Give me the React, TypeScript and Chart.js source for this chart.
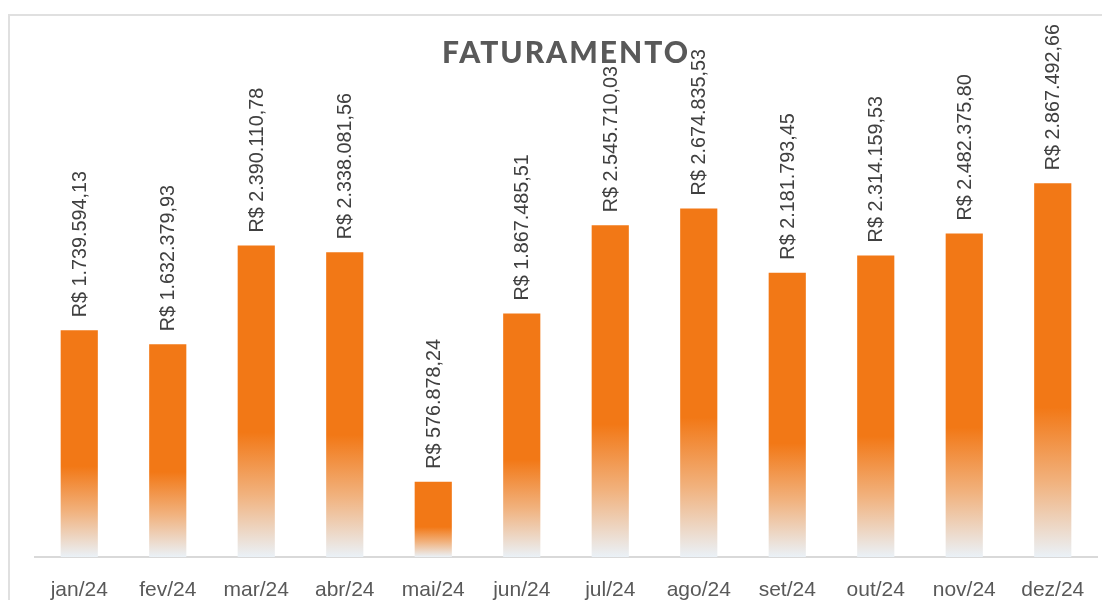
import React, { useEffect, useRef } from "react";
import { Chart, registerables } from "chart.js";

Chart.register(...registerables);

const TITLE = "FATURAMENTO";
const MONTHS = ["jan/24", "fev/24", "mar/24", "abr/24", "mai/24", "jun/24", "jul/24", "ago/24", "set/24", "out/24", "nov/24", "dez/24"];
const REVENUE = [1739594.13, 1632379.93, 2390110.78, 2338081.56, 576878.24, 1867485.51, 2545710.03, 2674835.53, 2181793.45, 2314159.53, 2482375.8, 2867492.66];
const Y_MAX = 3000000;

const ORANGE = "#F27816";

function formatBRL(v: number): string {
  const fixed = v.toFixed(2);
  const [intPart, dec] = fixed.split(".");
  const withDots = intPart.replace(/\B(?=(\d{3})+(?!\d))/g, ".");
  return "R$ " + withDots + "," + dec;
}

const labelPlugin = {
  id: "valueLabels",
  afterDatasetsDraw(chart: any) {
    const ctx = chart.ctx;
    const meta = chart.getDatasetMeta(0);
    ctx.save();
    ctx.font = "19.8px 'Liberation Sans', Arial, sans-serif";
    ctx.fillStyle = "#404040";
    ctx.textAlign = "left";
    ctx.textBaseline = "middle";
    meta.data.forEach((bar: any, i: number) => {
      ctx.save();
      ctx.translate(bar.x, bar.y - 13);
      ctx.rotate(-Math.PI / 2);
      ctx.fillText(formatBRL(REVENUE[i]), 0, 1);
      ctx.restore();
    });
    ctx.restore();
  },
};

const titlePlugin = {
  id: "customTitle",
  afterDraw(chart: any) {
    const ctx = chart.ctx;
    const area = chart.chartArea;
    ctx.save();
    ctx.font = "900 30px Lato, 'Open Sans', sans-serif";
    (ctx as any).letterSpacing = "2px";
    ctx.fillStyle = "#595959";
    ctx.textAlign = "center";
    ctx.textBaseline = "alphabetic";
    ctx.fillText(TITLE, (area.left + area.right) / 2, 47);
    ctx.restore();
  },
};

export default function App() {
  const ref = useRef<HTMLCanvasElement | null>(null);

  useEffect(() => {
    if (!ref.current) return;
    const chart = new Chart(ref.current, {
      type: "bar",
      data: {
        labels: MONTHS,
        datasets: [
          {
            data: REVENUE,
            backgroundColor: (c: any) => {
              const ch = c.chart;
              const area = ch.chartArea;
              if (!area || c.dataIndex === undefined) return ORANGE;
              const yScale = ch.scales.y;
              const top = yScale.getPixelForValue(REVENUE[c.dataIndex]);
              const bottom = yScale.getPixelForValue(0);
              if (!isFinite(top) || !isFinite(bottom) || bottom - top < 1) return ORANGE;
              const g = ch.ctx.createLinearGradient(0, top, 0, bottom);
              g.addColorStop(0, ORANGE);
              g.addColorStop(0.6, ORANGE);
              g.addColorStop(0.8, "#F1B27E");
              g.addColorStop(1, "#EAF1F7");
              return g;
            },
            borderWidth: 0,
            barPercentage: 0.42,
            categoryPercentage: 1,
          },
        ],
      },
      options: {
        animation: false,
        responsive: false,
        maintainAspectRatio: false,
        layout: { padding: { top: 150, left: 25, right: 11, bottom: 0 } },
        plugins: { legend: { display: false }, tooltip: { enabled: false }, title: { display: false } },
        scales: {
          y: { display: false, min: 0, max: Y_MAX },
          x: {
            grid: { display: false, drawTicks: false },
            border: { display: true, color: "#D9D9D9", width: 2 },
            afterFit: (scale: any) => {
              scale.height = 49;
            },
            ticks: {
              color: "#595959",
              padding: 21,
              font: { family: "'Liberation Sans', Arial, sans-serif", size: 21 },
              maxRotation: 0,
            },
          },
        },
      },
      plugins: [labelPlugin, titlePlugin],
    });
    return () => chart.destroy();
  }, []);

  return (
    <div
      style={{
        position: "relative",
        top: 6,
        width: 1098,
        height: 590,
        borderTop: "2px solid #E0E0E0",
        borderLeft: "2px solid #E0E0E0",
        background: "#fff",
      }}
    >
      <canvas ref={ref} width={1098} height={590} style={{ display: "block" }} />
    </div>
  );
}
